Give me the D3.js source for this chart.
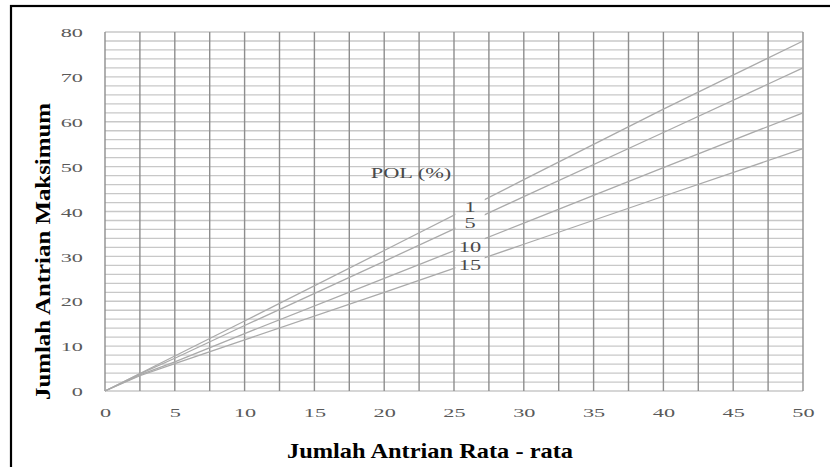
<!DOCTYPE html>
<html>
<head>
<meta charset="utf-8">
<script src="https://cdn.jsdelivr.net/npm/d3@7"></script>
<style>
  html, body { margin: 0; padding: 0; background: #fff; }
  svg { display: block; }
</style>
</head>
<body>
<svg id="chart" width="830" height="467"></svg>
<script>
// ---- data ----
const xValues = [0, 2.5, 5, 10, 20, 30, 40, 50];
const pol1  = [0, 3.9, 7.8, 15.6, 31.3, 47.1, 62.8, 78.0];
const pol5  = [0, 3.8, 7.3, 14.6, 28.9, 43.3, 57.6, 72.0];
const pol10 = [0, 3.6, 6.5, 12.8, 25.1, 37.4, 49.8, 62.0];
const pol15 = [0, 3.4, 6.1, 11.4, 22.0, 32.7, 43.4, 54.0];
const seriesNames = ["1", "5", "10", "15"];
const xTicks = [0, 5, 10, 15, 20, 25, 30, 35, 40, 45, 50];
const yTicks = [0, 10, 20, 30, 40, 50, 60, 70, 80];
const xGrid = d3.range(0, 50.01, 2.5);
const yGrid = d3.range(0, 80.01, 2);
const legendTitle = "POL (%)";
const xTitle = "Jumlah Antrian Rata - rata";
const yTitle = "Jumlah Antrian Maksimum";

const series = [pol1, pol5, pol10, pol15].map((vals, i) => ({
  name: seriesNames[i],
  points: xValues.map((x, j) => [x, vals[j]])
}));

// ---- layout ----
const svg = d3.select("#chart");
const L = 105, R = 803, T = 32, B = 391;
const x = d3.scaleLinear().domain([0, 50]).range([L, R]);
const y = d3.scaleLinear().domain([0, 80]).range([B, T]);
const serif = "'Liberation Serif', 'Times New Roman', serif";

// frame
svg.append("rect")
  .attr("x", 11).attr("y", 6).attr("width", 840).attr("height", 480)
  .attr("fill", "none").attr("stroke", "#000").attr("stroke-width", 2.2);

// horizontal grid
svg.append("g").selectAll("line").data(yGrid).join("line")
  .attr("x1", L).attr("x2", R)
  .attr("y1", d => y(d)).attr("y2", d => y(d))
  .attr("stroke", "#c8c8c8").attr("stroke-width", 1.3);

// vertical grid
svg.append("g").selectAll("line").data(xGrid).join("line")
  .attr("x1", d => x(d)).attr("x2", d => x(d))
  .attr("y1", T).attr("y2", B)
  .attr("stroke", "#8e8e8e").attr("stroke-width", 1.4);

// mask for label gap
const defs = svg.append("defs");
const mask = defs.append("mask").attr("id", "gapmask");
mask.append("rect").attr("x", 0).attr("y", 0).attr("width", 830).attr("height", 467).attr("fill", "#fff");
mask.append("rect").attr("x", x(25.1)).attr("y", y(45)).attr("width", x(27.2) - x(25.1)).attr("height", y(25) - y(45)).attr("fill", "#000");

const line = d3.line().x(d => x(d[0])).y(d => y(d[1]));
svg.append("g").attr("mask", "url(#gapmask)")
  .selectAll("path").data(series).join("path")
  .attr("d", d => line(d.points))
  .attr("fill", "none").attr("stroke", "#aaaaaa").attr("stroke-width", 1.3);

// axes (tick labels only)
const sx = 1.65;
const xAxis = svg.append("g").attr("transform", `translate(0,${B})`)
  .call(d3.axisBottom(x).tickValues(xTicks).tickSize(0).tickPadding(0));
xAxis.select(".domain").remove();
xAxis.selectAll("text")
  .attr("y", 26).attr("dy", 0)
  .attr("transform", `scale(${sx},1)`)
  .attr("font-family", serif).attr("font-size", 13.5).attr("fill", "#5a5a5a");

const yAxis = svg.append("g").attr("transform", `translate(${L},0)`)
  .call(d3.axisLeft(y).tickValues(yTicks).tickSize(0).tickPadding(0));
yAxis.select(".domain").remove();
yAxis.selectAll("text")
  .attr("x", -22 / sx).attr("dy", "0.35em")
  .attr("transform", `scale(${sx},1)`)
  .attr("font-family", serif).attr("font-size", 13.5).attr("fill", "#5a5a5a");

// legend-ish labels
const lab = svg.append("g").attr("font-family", serif).attr("font-size", 14).attr("fill", "#4a4a4a");
lab.append("text")
  .attr("transform", `translate(411,178) scale(1.6,1)`)
  .attr("text-anchor", "middle").text(legendTitle);
const labelBaselines = [212, 228, 252, 270];
series.forEach((s, i) => {
  lab.append("text")
    .attr("transform", `translate(470,${labelBaselines[i]}) scale(1.6,1)`)
    .attr("text-anchor", "middle").text(s.name);
});

// axis titles
svg.append("text")
  .attr("x", 287).attr("y", 458)
  .attr("textLength", 286).attr("lengthAdjust", "spacingAndGlyphs")
  .attr("font-family", serif).attr("font-weight", "bold").attr("font-size", 22)
  .attr("fill", "#000").text(xTitle);

svg.append("text")
  .attr("transform", "translate(50,400) rotate(-90)")
  .attr("x", 0).attr("y", 0)
  .attr("textLength", 297).attr("lengthAdjust", "spacingAndGlyphs")
  .attr("font-family", serif).attr("font-weight", "bold").attr("font-size", 22)
  .attr("fill", "#000").text(yTitle);
</script>
</body>
</html>
